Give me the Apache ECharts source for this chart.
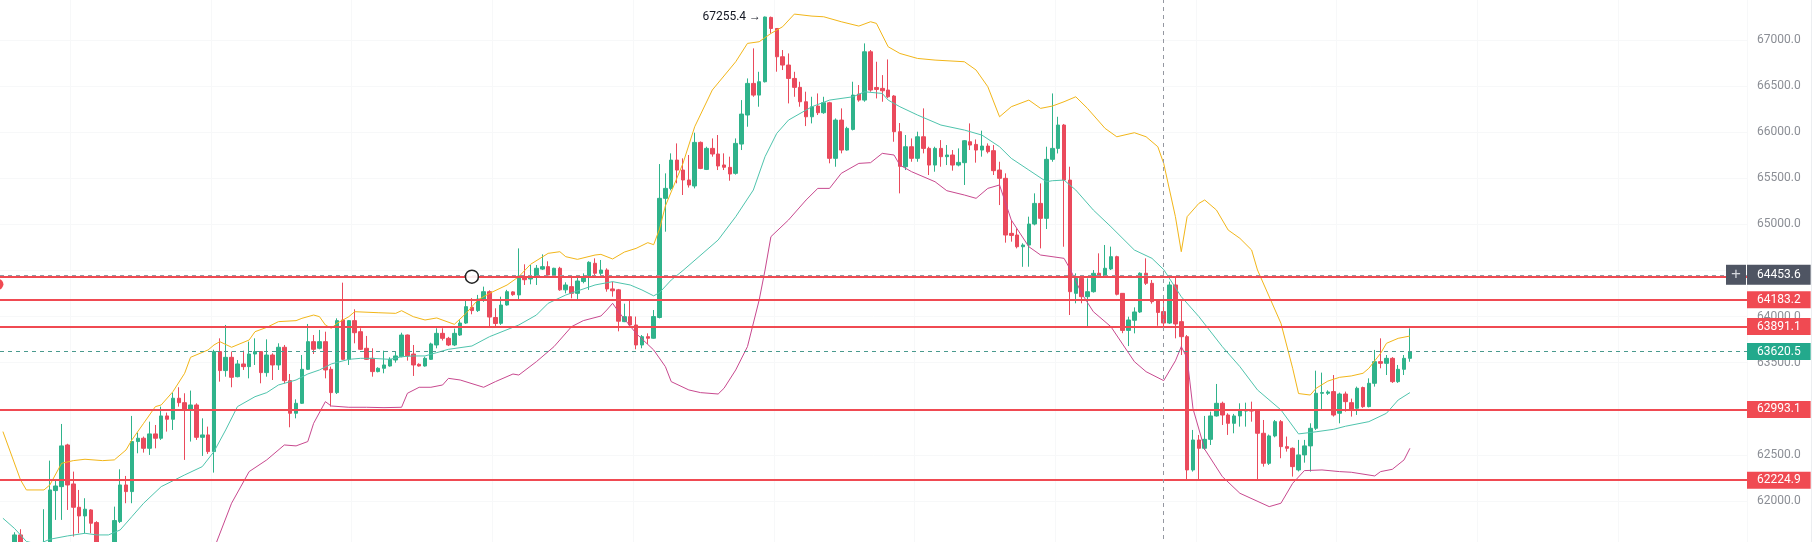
<!DOCTYPE html>
<html>
<head>
<meta charset="utf-8">
<script src="https://cdn.jsdelivr.net/npm/echarts@6/dist/echarts.min.js"></script>
<style>
html, body { margin: 0; padding: 0; background: #fff; }
#chart { width: 1819px; height: 542px; }
</style>
</head>
<body>
<div id="chart"></div>
<script>
// hourly candles, [open, high, low, close]
const candles = [
    [61500, 61540, 61300, 61380], [61380, 61450, 61250, 61420], [61420, 61660, 61400, 61631], [61631, 61693, 61420, 61470],
    [61470, 61520, 61280, 61350], [61350, 61500, 61250, 61450], [61450, 61520, 61250, 61330], [61330, 61910, 61280, 61520],
    [61520, 62437, 61480, 62119], [62112, 62235, 61794, 62162], [62155, 62835, 61794, 62597], [62607, 62620, 61902, 62173],
    [62184, 62318, 61613, 61931], [61931, 62119, 61649, 61837], [61837, 62029, 61649, 61910], [61902, 61910, 61649, 61758],
    [61765, 61780, 61450, 61500], [61500, 61530, 61350, 61420], [61420, 61540, 61380, 61480], [61480, 61938, 61450, 61787],
    [61776, 62343, 61760, 62173], [62173, 62271, 61975, 62101], [62101, 62922, 61975, 62644], [62644, 62741, 62517, 62680],
    [62680, 62698, 62524, 62571], [62571, 62860, 62499, 62727], [62727, 62824, 62571, 62680], [62680, 63023, 62662, 62922],
    [62922, 62958, 62752, 62886], [62886, 63175, 62770, 63114], [63114, 63233, 63023, 63066], [63066, 63168, 62445, 62987],
    [62987, 63197, 62644, 63041], [63041, 63059, 62662, 62690], [62690, 62896, 62488, 62716], [62716, 62806, 62510, 62535],
    [62535, 63640, 62307, 63620], [63620, 63764, 63294, 63414], [63414, 63909, 63348, 63558], [63558, 63620, 63233, 63341],
    [63348, 63529, 63341, 63486], [63486, 63630, 63421, 63457], [63457, 63728, 63330, 63594], [63594, 63764, 63475, 63620],
    [63620, 63625, 63276, 63392], [63392, 63753, 63348, 63583], [63583, 63601, 63312, 63475], [63475, 63710, 63421, 63667],
    [63667, 63692, 63276, 63305], [63305, 63377, 62799, 62951], [62951, 63102, 62896, 63059], [63059, 63583, 63052, 63428],
    [63428, 63920, 63421, 63728], [63728, 63800, 63594, 63645], [63656, 63855, 63645, 63728], [63728, 63836, 63330, 63421],
    [63428, 63457, 63023, 63175], [63175, 63981, 63160, 63956], [63963, 64368, 63529, 63536], [63536, 63963, 63475, 63956],
    [63956, 64079, 63710, 63825], [63836, 63873, 63638, 63645], [63656, 63790, 63529, 63536], [63547, 63656, 63348, 63403],
    [63403, 63450, 63395, 63439], [63439, 63630, 63385, 63475], [63464, 63558, 63457, 63536], [63529, 63620, 63500, 63573],
    [63565, 63825, 63558, 63800], [63800, 63805, 63522, 63573], [63594, 63692, 63356, 63475], [63482, 63493, 63457, 63464],
    [63464, 63565, 63457, 63547], [63536, 63717, 63529, 63703], [63692, 63873, 63656, 63818], [63818, 63873, 63740, 63764],
    [63764, 63780, 63680, 63692], [63692, 63870, 63680, 63818], [63800, 63960, 63790, 63930], [63930, 64170, 63920, 64108],
    [64100, 64200, 64025, 64065], [64065, 64235, 64050, 64190], [64185, 64325, 64160, 64270], [64270, 64285, 63880, 63995],
    [63990, 64090, 63890, 63925], [63927, 64216, 63910, 64125], [64126, 64290, 64118, 64270], [64268, 64275, 64225, 64238],
    [64235, 64740, 64180, 64440], [64435, 64567, 64343, 64400], [64408, 64560, 64350, 64430], [64433, 64560, 64343, 64524],
    [64515, 64675, 64505, 64542], [64542, 64600, 64440, 64451], [64451, 64530, 64433, 64524], [64524, 64540, 64280, 64290],
    [64290, 64372, 64252, 64343], [64325, 64444, 64198, 64252], [64252, 64433, 64180, 64386], [64380, 64469, 64361, 64433],
    [64433, 64600, 64290, 64589], [64578, 64632, 64433, 64470], [64469, 64614, 64451, 64505], [64505, 64524, 64270, 64300],
    [64300, 64379, 64216, 64280], [64290, 64300, 63840, 63950], [63945, 64140, 63940, 63999], [63999, 64175, 63900, 63909],
    [63909, 64000, 63645, 63692], [63692, 63800, 63656, 63782], [63782, 63818, 63703, 63765], [63765, 64071, 63760, 64000],
    [63990, 65655, 63980, 65283], [65283, 65554, 64921, 65391], [65391, 65771, 65370, 65698], [65698, 65879, 65446, 65590],
    [65590, 65717, 65319, 65482], [65482, 65753, 65400, 65428], [65417, 65995, 65391, 65890], [65890, 65900, 65600, 65608],
    [65597, 65843, 65590, 65825], [65825, 65933, 65735, 65764], [65764, 65970, 65590, 65634], [65645, 65771, 65590, 65620],
    [65619, 65735, 65474, 65547], [65554, 65933, 65540, 65879], [65872, 66349, 65807, 66197], [66187, 66584, 66060, 66530],
    [66530, 66910, 66385, 66403], [66403, 66656, 66277, 66548], [66548, 67255.4, 66540, 67250], [67246, 67255, 67072, 67126],
    [67126, 67130, 66657, 66819], [66819, 66892, 66675, 66729], [66729, 66855, 66313, 66584], [66584, 66656, 66385, 66487],
    [66487, 66548, 66277, 66331], [66331, 66440, 66067, 66168], [66168, 66385, 66096, 66277], [66284, 66421, 66187, 66212],
    [66212, 66385, 66200, 66320], [66320, 66330, 65663, 65717], [65717, 66150, 65626, 66132], [66132, 66259, 65771, 65807],
    [65807, 66060, 65800, 66042], [66031, 66548, 66020, 66403], [66414, 66512, 66331, 66349], [66349, 66964, 66331, 66873],
    [66873, 66892, 66440, 66458], [66486, 66765, 66367, 66465], [66476, 66620, 66331, 66450], [66458, 66790, 66370, 66385],
    [66393, 66403, 65897, 66006], [66006, 66100, 65337, 65630], [65626, 65970, 65590, 65843], [65843, 65933, 65680, 65717],
    [65717, 66006, 65680, 65951], [65951, 66259, 65771, 65825], [65825, 65843, 65536, 65644], [65644, 65843, 65572, 65825],
    [65825, 65915, 65626, 65735], [65735, 65861, 65644, 65753], [65753, 65807, 65583, 65644], [65644, 65825, 65630, 65673],
    [65670, 65915, 65428, 65908], [65897, 66096, 65807, 65861], [65868, 65922, 65670, 65807], [65807, 66017, 65735, 65850],
    [65850, 65879, 65770, 65789], [65800, 65861, 65536, 65583], [65590, 65680, 65210, 65500], [65500, 65554, 64802, 64885],
    [64903, 65048, 64813, 64881], [64885, 64957, 64740, 64758], [64758, 64795, 64540, 64776], [64776, 65084, 64541, 65004],
    [65004, 65337, 64990, 65228], [65228, 65445, 64740, 65066], [65066, 65843, 64950, 65706], [65706, 66421, 65680, 65825],
    [65825, 66168, 65770, 66078], [66078, 66090, 64758, 65481], [65481, 65626, 64017, 64270], [64252, 64469, 64144, 64415],
    [64415, 64430, 64144, 64216], [64216, 64415, 63890, 64270], [64270, 64505, 64260, 64469], [64470, 64686, 64420, 64433],
    [64433, 64777, 64420, 64524], [64517, 64759, 64505, 64650], [64650, 64660, 64230, 64242], [64252, 64255, 63820, 63850],
    [63850, 63999, 63680, 63963], [63960, 64100, 63818, 64050], [64050, 64480, 64040, 64470], [64470, 64632, 64343, 64361],
    [64361, 64397, 64140, 64162], [64180, 64185, 63900, 64045], [64054, 64180, 63855, 63930], [63930, 64379, 63920, 64343],
    [64343, 64433, 63764, 63920], [63945, 64170, 63583, 63782], [63782, 63800, 62228, 62336], [62336, 62770, 62318, 62661],
    [62661, 62716, 62235, 62571], [62571, 62922, 62553, 62668], [62668, 62969, 62607, 62922], [62922, 63269, 62915, 63059],
    [63059, 63077, 62824, 62932], [62932, 62951, 62716, 62842], [62842, 62944, 62734, 62922], [62922, 63059, 62806, 62980],
    [62975, 63066, 62806, 62990], [62990, 63077, 62860, 62975], [62987, 62995, 62228, 62734], [62734, 62878, 62372, 62408],
    [62408, 62720, 62390, 62705], [62705, 62878, 62690, 62860], [62860, 62878, 62463, 62589], [62589, 62698, 62535, 62571],
    [62571, 62580, 62264, 62372], [62336, 62662, 62320, 62499], [62499, 62662, 62415, 62597], [62597, 62842, 62318, 62788],
    [62788, 63413, 62770, 63168], [63168, 63392, 62987, 63175], [63168, 63200, 63150, 63182], [63186, 63366, 62915, 62932],
    [62951, 63175, 62842, 63160], [63160, 63186, 62969, 63077], [63066, 63110, 62915, 62994], [63005, 63240, 62933, 63222],
    [63230, 63240, 63010, 63023], [63023, 63330, 63015, 63276], [63276, 63638, 63240, 63511], [63511, 63764, 63439, 63493],
    [63493, 63583, 63366, 63547], [63547, 63560, 63280, 63294], [63294, 63475, 63280, 63428], [63428, 63583, 63366, 63547],
    [63547, 63872, 63510, 63620.5]
];

// bollinger bands, [candle index, price]
const upperBand = [
    [0, 62752], [3, 62228], [4, 62119], [7, 62119], [8, 62173], [10, 62408], [12, 62437], [14, 62452], [17, 62437],
    [19, 62445], [21, 62553], [22, 62662], [24, 62842], [26, 63023], [27, 63041], [29, 63186], [31, 63385], [32, 63558],
    [35, 63638], [36, 63692], [37, 63728], [39, 63667], [42, 63746], [43, 63836], [45, 63883], [47, 63945], [50, 63956],
    [51, 63981], [53, 64017], [54, 63999], [55, 63909], [56, 63873], [57, 63927], [59, 63999], [60, 64053], [64, 64042],
    [67, 64035], [68, 64064], [70, 63999], [72, 63963], [74, 63985], [77, 63916], [79, 64035], [81, 64180], [83, 64252],
    [86, 64343], [88, 64433], [90, 64567], [93, 64686], [95, 64704], [96, 64650], [98, 64621], [101, 64668], [102, 64675],
    [104, 64625], [106, 64700], [108, 64740], [110, 64802], [111, 64780], [112, 64950], [113, 65200], [116, 65662],
    [118, 66060], [121, 66458], [125, 66765], [127, 66964], [129, 66982], [131, 67072], [133, 67145], [135, 67282],
    [138, 67260], [140, 67253], [143, 67199], [146, 67152], [148, 67199], [149, 67181], [151, 66928], [153, 66855],
    [156, 66801], [159, 66783], [164, 66765], [166, 66675], [168, 66494], [170, 66168], [172, 66277], [175, 66349],
    [177, 66259], [179, 66284], [181, 66331], [183, 66385], [185, 66259], [188, 66042], [190, 65951], [193, 65995],
    [195, 65951], [197, 65843], [198, 65662], [200, 65084], [201, 64704], [202, 65084], [204, 65228], [205, 65265],
    [207, 65156], [209, 64939], [211, 64849], [213, 64722], [214, 64505], [218, 63927], [220, 63439], [221, 63165],
    [223, 63149], [224, 63222], [226, 63300], [228, 63341], [230, 63356], [232, 63385], [233, 63439], [235, 63601],
    [236, 63710], [238, 63764], [240, 63789]
];
const middleBand = [
    [0, 61812], [2, 61700], [4, 61560], [6, 61530], [8, 61584], [11, 61620], [14, 61649], [16, 61631], [18, 61631],
    [20, 61685], [22, 61830], [24, 61975], [27, 62155], [31, 62282], [34, 62372], [36, 62535], [38, 62770], [40, 63023],
    [43, 63131], [45, 63175], [47, 63258], [50, 63312], [52, 63377], [54, 63421], [56, 63486], [59, 63536], [61, 63547],
    [63, 63547], [66, 63536], [68, 63565], [70, 63573], [72, 63573], [74, 63609], [76, 63645], [80, 63681], [83, 63782],
    [88, 63909], [91, 64017], [93, 64144], [96, 64234], [98, 64278], [101, 64343], [104, 64379], [107, 64343],
    [109, 64289], [111, 64225], [112, 64260], [114, 64397], [116, 64500], [122, 64831], [125, 65084], [128, 65373],
    [130, 65735], [132, 65988], [134, 66132], [138, 66277], [141, 66349], [145, 66385], [147, 66439], [150, 66421],
    [151, 66349], [153, 66277], [156, 66187], [160, 66078], [164, 66024], [167, 65969], [170, 65843], [172, 65717],
    [175, 65590], [178, 65463], [179, 65474], [181, 65481], [183, 65373], [186, 65156], [189, 64975], [193, 64722],
    [196, 64632], [198, 64510], [201, 64216], [204, 64000], [208, 63674], [211, 63457], [214, 63204], [218, 62987],
    [221, 62727], [224, 62750], [227, 62777], [229, 62810], [233, 62860], [236, 62951], [238, 63095], [240, 63175]
];
const lowerBand = [
    [33, 61000], [36, 61480], [39, 61975], [42, 62318], [45, 62445], [48, 62607], [50, 62597], [52, 62644], [53, 62842],
    [55, 63077], [56, 63030], [59, 63016], [62, 63016], [65, 63012], [68, 63016], [69, 63168], [71, 63233], [73, 63233],
    [75, 63258], [76, 63330], [78, 63312], [82, 63233], [84, 63294], [87, 63377], [88, 63366], [91, 63511], [94, 63674],
    [97, 63891], [99, 63956], [102, 64006], [103, 64071], [104, 64144], [105, 64053], [108, 63818], [111, 63638],
    [113, 63457], [114, 63294], [117, 63204], [119, 63175], [122, 63160], [123, 63222], [125, 63421], [127, 63674],
    [129, 64180], [130, 64505], [131, 64867], [134, 65048], [137, 65265], [139, 65391], [141, 65391], [143, 65554],
    [146, 65662], [148, 65670], [150, 65771], [152, 65753], [153, 65644], [155, 65572], [159, 65463], [161, 65366],
    [164, 65319], [166, 65283], [168, 65391], [170, 65428], [172, 65048], [175, 64758], [177, 64668], [181, 64632],
    [182, 64520], [184, 64252], [186, 64053], [189, 63890], [193, 63511], [195, 63402], [198, 63305], [200, 63520],
    [201, 63674], [202, 63550], [203, 63000], [205, 62560], [208, 62264], [211, 62083], [216, 61938], [218, 61975],
    [220, 62191], [222, 62329], [225, 62336], [228, 62318], [230, 62311], [234, 62271], [235, 62318], [237, 62343],
    [239, 62445], [240, 62571]
];

// drawn horizontal levels (the first one sits under the crosshair label)
const levels = [64433, 64183.2, 63891.1, 62993.1, 62224.9];
const lastPrice = 63620.5;
const crosshairPrice = 64453.6;
const crosshairIndex = 198;
const highIndex = 130;
const highPrice = 67255.4;
const handleIndex = 80;
const leftDotPrice = 64350;
const slotCount = 298;

const categories = [];
for (let i = 0; i < slotCount; i++) {
    let d = new Date(Date.UTC(2024, 2, 4, 0) + i * 3600 * 1000);
    categories.push(d.toISOString().slice(5, 16).replace("T", " "));
}

const upColor = "#2fb38b";
const downColor = "#ea4a5c";
const levelColor = "#f04a52";
const gridColor = "#f7f8f9";

let chart = echarts.init(document.getElementById("chart"), null, { renderer: "canvas" });

let levelLines = levels.map((v, i) => {
    return {
        yAxis: v,
        lineStyle: { color: levelColor, width: 2, type: "solid" },
        label: {
            show: i > 0,
            position: "end",
            distance: 0,
            formatter: v.toFixed(1),
            color: "#fff",
            fontSize: 12,
            fontFamily: "Roboto, sans-serif",
            backgroundColor: levelColor,
            padding: [2, 10, 2, 10],
            lineHeight: 13,
        },
    };
});

chart.setOption({
    animation: false,
    backgroundColor: "#ffffff",
    grid: {
        left: 0,
        right: 72,
        top: -6,
        bottom: -5,
        outerBoundsMode: "none",
    },
    graphic: [
        {
            type: "line",
            silent: true,
            shape: { x1: 1811.5, y1: 0, x2: 1811.5, y2: 542 },
            style: { stroke: "#eceef1", lineWidth: 1 },
        },
    ],
    xAxis: {
        type: "category",
        data: categories,
        boundaryGap: true,
        axisLine: { show: false },
        axisTick: { show: false },
        axisLabel: { show: false },
        splitLine: {
            show: true,
            interval: (index) => (index - 12) % 24 === 0,
            lineStyle: { color: gridColor, width: 1 },
        },
    },
    yAxis: {
        type: "value",
        position: "right",
        min: 61500,
        max: 67500,
        interval: 500,
        scale: true,
        axisLine: { show: false },
        axisTick: { show: false },
        axisLabel: {
            margin: 10,
            color: "#8b8e95",
            fontSize: 12,
            fontFamily: "Roboto, sans-serif",
            showMinLabel: false,
            showMaxLabel: false,
            formatter: (v) => v.toFixed(1),
        },
        splitLine: { lineStyle: { color: gridColor, width: 1 } },
    },
    series: [
        {
            type: "candlestick",
            name: "price",
            barWidth: 4,
            z: 2,
            silent: true,
            data: candles.map(([o, h, l, c]) => [o, c, l, h]),
            itemStyle: {
                color: upColor,
                color0: downColor,
                borderColor: upColor,
                borderColor0: downColor,
                borderWidth: 1,
            },
            markLine: {
                silent: true,
                symbol: ["none", "none"],
                animation: false,
                data: [
                    ...levelLines,
                    {
                        yAxis: lastPrice,
                        lineStyle: { color: "#4a9a8e", width: 1, type: [4, 4] },
                        label: {
                            show: true,
                            position: "end",
                            distance: 0,
                            formatter: lastPrice.toFixed(1),
                            color: "#fff",
                            fontSize: 12,
                            fontFamily: "Roboto, sans-serif",
                            backgroundColor: "#23a98c",
                            padding: [2, 10, 2, 10],
                            lineHeight: 13,
                        },
                    },
                    {
                        yAxis: crosshairPrice,
                        lineStyle: { color: "#9598a1", width: 1, type: [4, 4] },
                        label: {
                            show: true,
                            position: "end",
                            distance: 0,
                            offset: [-21, 0],
                            formatter: "{p|+}{g|}{v|" + crosshairPrice.toFixed(1) + "}",
                            rich: {
                                p: {
                                    backgroundColor: "#4f5563",
                                    color: "#d5d8de",
                                    fontSize: 17,
                                    width: 20,
                                    height: 20,
                                    lineHeight: 20,
                                    align: "center",
                                },
                                g: { width: 1, height: 20 },
                                v: {
                                    backgroundColor: "#4f5563",
                                    color: "#fff",
                                    fontSize: 12,
                                    fontFamily: "Roboto, sans-serif",
                                    height: 20,
                                    lineHeight: 20,
                                    padding: [0, 10, 0, 10],
                                },
                            },
                        },
                    },
                    {
                        xAxis: categories[crosshairIndex],
                        lineStyle: { color: "#9598a1", width: 1, type: [4, 4] },
                        label: { show: false },
                    },
                ],
            },
            markPoint: {
                silent: true,
                animation: false,
                data: [
                    {
                        coord: [categories[handleIndex], levels[0]],
                        symbol: "circle",
                        symbolSize: 13,
                        itemStyle: { color: "rgba(255,255,255,0.9)", borderColor: "#222", borderWidth: 1.5 },
                        label: { show: false },
                    },
                    {
                        coord: [categories[0], leftDotPrice],
                        symbol: "circle",
                        symbolSize: 11,
                        symbolOffset: [-5, 0],
                        itemStyle: { color: levelColor },
                        label: { show: false },
                    },
                    {
                        coord: [categories[highIndex], highPrice],
                        symbol: "circle",
                        symbolSize: 2,
                        itemStyle: { color: "rgba(0,0,0,0)" },
                        label: {
                            show: true,
                            position: "left",
                            distance: 3,
                            formatter: highPrice.toFixed(1) + " \u2192",
                            color: "#131722",
                            fontSize: 12,
                            fontFamily: "Roboto, sans-serif",
                        },
                    },
                ],
            },
        },
        {
            type: "line",
            name: "upper",
            data: upperBand,
            showSymbol: false,
            silent: true,
            z: 3,
            lineStyle: { color: "#f2b619", width: 1 },
        },
        {
            type: "line",
            name: "basis",
            data: middleBand,
            showSymbol: false,
            silent: true,
            z: 3,
            lineStyle: { color: "#4fc4ad", width: 1 },
        },
        {
            type: "line",
            name: "lower",
            data: lowerBand,
            showSymbol: false,
            silent: true,
            z: 3,
            lineStyle: { color: "#c8498f", width: 1 },
        },
    ],
});
</script>
</body>
</html>
